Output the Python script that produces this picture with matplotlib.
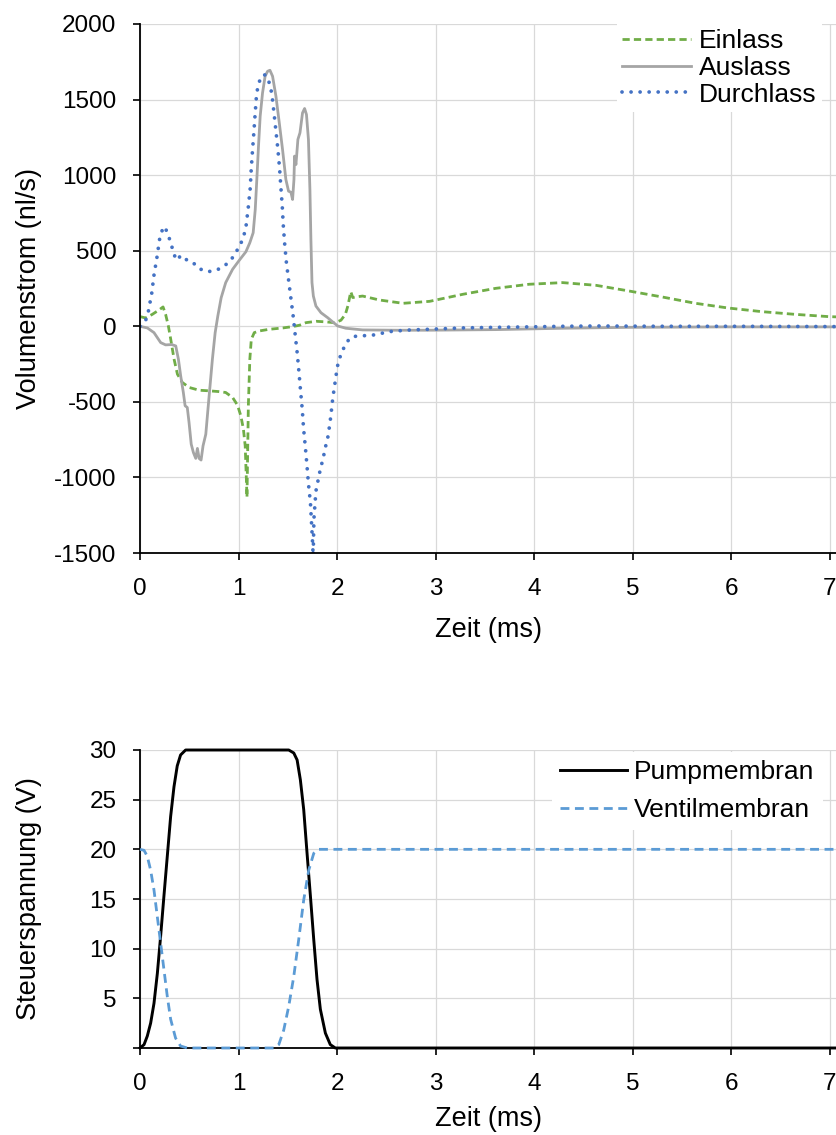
import matplotlib
matplotlib.use("Agg")
import matplotlib.pyplot as plt

# --- flow rates (nl/s) over time (ms) ---
t_einlass = [0, 0.058, 0.125, 0.193, 0.234, 0.26, 0.288, 0.312, 0.346, 0.38, 0.43, 0.5,
             0.6, 0.7, 0.8, 0.87, 0.94, 0.99, 1.024, 1.05, 1.068, 1.075, 1.081, 1.086,
             1.09, 1.1, 1.115, 1.13, 1.16, 1.21, 1.31, 1.45, 1.55, 1.62, 1.685, 1.79,
             1.89, 1.97, 2.0, 2.04, 2.085, 2.11, 2.14, 2.16, 2.2, 2.26, 2.43, 2.67, 2.94,
             3.28, 3.61, 3.95, 4.29, 4.63, 4.96, 5.3, 5.64, 5.97, 6.31, 6.65, 6.99, 7.08]
einlass = [64, 55, 79, 108, 128, 79, 2, -86, -218, -317, -372, -405,
           -423, -427, -432, -438, -471, -522, -593, -681, -791, -923, -1033, -1132,
           -967, -526, -218, -86, -42, -31, -20, -11, -2, 7, 24, 33,
           29, 24, 29, 40, 79, 134, 229, 190, 195, 200, 174, 152, 165,
           212, 251, 278, 289, 271, 234, 194, 152, 121, 97, 79, 64, 62]

t_auslass = [0, 0.075, 0.142, 0.21, 0.26, 0.322, 0.363, 0.39, 0.413, 0.44, 0.458, 0.48,
             0.498, 0.52, 0.542, 0.566, 0.583, 0.6, 0.62, 0.64, 0.668, 0.69, 0.708,
             0.735, 0.763, 0.79, 0.824, 0.87, 0.94, 1.007, 1.075, 1.115, 1.149, 1.17,
             1.186, 1.203, 1.22, 1.244, 1.27, 1.295, 1.319, 1.346, 1.38, 1.414, 1.447,
             1.481, 1.508, 1.532, 1.549, 1.563, 1.569, 1.583, 1.59, 1.603, 1.624, 1.65,
             1.671, 1.69, 1.71, 1.725, 1.735, 1.746, 1.76, 1.786, 1.837, 1.905, 1.956,
             2.007, 2.09, 2.26, 2.6, 2.93, 3.61, 4.29, 4.96, 5.97, 7.08]
auslass = [0, -11, -42, -108, -123, -121, -130, -218, -328, -438, -526, -537,
           -637, -780, -835, -874, -808, -874, -885, -791, -714, -548, -416,
           -218, -42, 68, 189, 289, 377, 436, 493, 553, 619, 773,
           971, 1192, 1390, 1544, 1654, 1687, 1694, 1654, 1522, 1346, 1170,
           971, 894, 887, 839, 971, 1126, 1070, 1126, 1236, 1280, 1412,
           1441, 1401, 1236, 905, 575, 289, 200, 134, 90, 57, 29,
           2, -13, -24, -26, -26, -22, -13, -7, -4, -4]

t_durchlass = [0, 0.058, 0.085, 0.119, 0.142, 0.173, 0.2, 0.23, 0.25, 0.28, 0.31, 0.336,
               0.366, 0.42, 0.48, 0.536, 0.6, 0.69, 0.78, 0.864, 0.93, 0.98, 1.027,
               1.058, 1.078, 1.1, 1.119, 1.129, 1.142, 1.156, 1.169, 1.183, 1.2, 1.23,
               1.26, 1.288, 1.319, 1.339, 1.36, 1.38, 1.4, 1.417, 1.43, 1.444, 1.454,
               1.468, 1.485, 1.508, 1.532, 1.556, 1.576, 1.597, 1.614, 1.63, 1.647,
               1.66, 1.678, 1.695, 1.71, 1.73, 1.74, 1.75, 1.758, 1.766, 1.786, 1.824,
               1.847, 1.868, 1.888, 1.91, 1.936, 1.956, 1.97, 1.997, 2.013, 2.047,
               2.088, 2.135, 2.19, 2.28, 2.38, 2.47, 2.56, 2.75, 2.93, 3.27, 3.61,
               3.95, 4.29, 4.63, 5.3, 6.0, 7.08]
durchlass = [0, 40, 99, 218, 339, 460, 581, 645, 660, 615, 557, 498,
             438, 469, 436, 423, 381, 361, 372, 403, 445, 496, 553,
             610, 670, 791, 914, 1037, 1161, 1284, 1407, 1531, 1597, 1652,
             1665, 1656, 1597, 1535, 1414, 1291, 1170, 1044, 920, 797, 674,
             551, 429, 308, 185, 62, -59, -183, -306, -427, -548,
             -672, -795, -921, -1042, -1165, -1286, -1407, -1520, -1271, -1090, -967,
             -905, -846, -784, -725, -601, -482, -418, -297, -236, -174,
             -117, -75, -66, -62, -57, -44, -33, -24, -20, -11, -7,
             -4, 0, 2, 0, 0, -2]

# --- control voltages (V) ---
t_pump = [0, 0.041, 0.074, 0.108, 0.142, 0.176, 0.209, 0.243, 0.277, 0.311, 0.345,
          0.378, 0.412, 0.463, 1.51, 1.561, 1.595, 1.628, 1.662, 1.696, 1.73, 1.764,
          1.797, 1.831, 1.882, 1.932, 1.983, 7.08]
pump = [0, 0.34, 1.2, 2.5, 4.5, 7.5, 11.2, 15.3, 19.3, 23.3, 26.3,
        28.4, 29.5, 30, 30, 29.7, 29.0, 27.0, 24.0, 19.6, 15.3, 10.9,
        6.9, 3.9, 1.5, 0.34, 0, 0]

t_ventil = [0, 0.041, 0.074, 0.108, 0.142, 0.176, 0.209, 0.243, 0.277, 0.311, 0.361,
            0.412, 0.48, 1.358, 1.409, 1.459, 1.51, 1.561, 1.611, 1.662, 1.713, 1.764,
            1.814, 7.08]
ventil = [20, 19.9, 19.3, 17.9, 15.9, 13.2, 10.6, 7.9, 5.2, 2.9, 1.0,
          0.2, 0, 0, 0.34, 1.8, 4.2, 7.2, 10.9, 14.9, 17.9, 19.6,
          20, 20]

x_ticks = [0, 1, 2, 3, 4, 5, 6, 7]
flow_ticks = [-1500, -1000, -500, 0, 500, 1000, 1500, 2000]
volt_ticks = [0, 5, 10, 15, 20, 25, 30]
volt_labels = ["", "5", "10", "15", "20", "25", "30"]

plt.rcParams["font.family"] = ["Liberation Sans", "DejaVu Sans"]
plt.rcParams["axes.unicode_minus"] = False

W, H = 837, 1135
fig = plt.figure(figsize=(W / 100, H / 100), dpi=100)
left = 140 / W
ax1 = fig.add_axes([left, 1 - 553 / H, 1 - left, (553 - 24) / H])
ax2 = fig.add_axes([left, 1 - 1048 / H, 1 - left, (1048 - 750) / H])

GREEN, GREY, BLUE, LBLUE = "#70ad47", "#a5a5a5", "#4472c4", "#5b9bd5"
TICK_FS, LABEL_FS, LEG_FS = 17.5, 19.5, 19


def style_axes(ax, labelpad):
    for s in ("top", "right"):
        ax.spines[s].set_visible(False)
    for s in ("left", "bottom"):
        ax.spines[s].set_color("black")
        ax.spines[s].set_linewidth(1.3)
    ax.grid(True, color="#d9d9d9", lw=0.9)
    ax.set_axisbelow(True)
    ax.tick_params(direction="out", length=5, width=1.2, color="black",
                   labelsize=TICK_FS, pad=12)
    ax.tick_params(axis="x", pad=13)
    ax.set_xlim(0, 7.076)
    ax.set_xticks(x_ticks)
    ax.set_xlabel("Zeit (ms)", fontsize=LABEL_FS, labelpad=labelpad)
    ax.yaxis.set_label_coords(-0.1406, 0.5)


style_axes(ax1, 12)
ax1.plot(t_einlass, einlass, color=GREEN, lw=2.0, dashes=(2.6, 1.5), label="Einlass")
ax1.plot(t_auslass, auslass, color=GREY, lw=2.0, label="Auslass")
ax1.plot(t_durchlass, durchlass, color=BLUE, lw=2.7, dashes=(0.01, 2.4),
         dash_capstyle="round", label="Durchlass")
ax1.set_ylim(-1500, 2000)
ax1.set_yticks(flow_ticks)
ax1.set_ylabel("Volumenstrom (nl/s)", fontsize=LABEL_FS)
ax1.legend(loc="upper left", bbox_to_anchor=(617 / W, 1 - 24 / H),
           bbox_transform=fig.transFigure, fontsize=LEG_FS, frameon=True,
           fancybox=False, edgecolor="none", framealpha=1, borderpad=0.2,
           borderaxespad=0, handlelength=2.6, handletextpad=0.3,
           labelspacing=0.1)

style_axes(ax2, 8)
ax2.plot(t_pump, pump, color="black", lw=2.1, clip_on=False, zorder=3,
         label="Pumpmembran")
ax2.plot(t_ventil, ventil, color=LBLUE, lw=2.0, dashes=(3.2, 2.0), clip_on=False,
         zorder=3, label="Ventilmembran")
ax2.set_ylim(0, 30)
ax2.set_yticks(volt_ticks)
ax2.set_yticklabels(volt_labels)
ax2.set_ylabel("Steuerspannung (V)", fontsize=LABEL_FS)
ax2.legend(loc="upper left", bbox_to_anchor=(552 / W, 1 - 752 / H),
           bbox_transform=fig.transFigure, fontsize=LEG_FS, frameon=True,
           fancybox=False, edgecolor="none", framealpha=1, borderpad=0.3,
           borderaxespad=0, handlelength=2.55, handletextpad=0.27,
           labelspacing=0.55)

fig.savefig("out.png", dpi=100)
